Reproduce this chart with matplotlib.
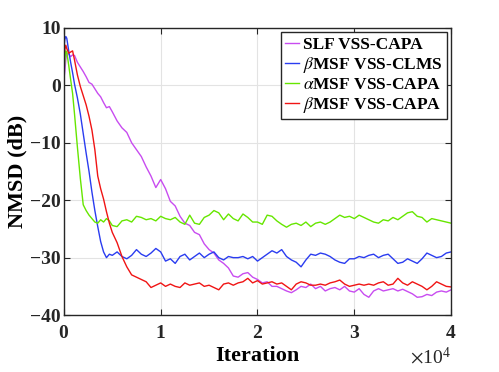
import matplotlib
matplotlib.use("Agg")
from matplotlib import pyplot as plt

plt.rcParams["font.family"] = ["Liberation Serif", "DejaVu Serif"]
plt.rcParams["mathtext.fontset"] = "stix"

# Data
iters = [0, 100, 200, 300, 500, 700, 900, 1100, 1400, 1700, 2000, 2300, 2600,
         2900, 3200, 3500, 3800, 4100, 4400, 4700, 5000] + list(range(5500, 40001, 500))

slf_capa = [1.0, 2.5, 4.5, 5.6, 5.4, 5.0, 5.3, 5.2, 4.0, 3.2, 2.4, 1.5, 0.5,
            0.2, -0.6, -1.4, -2.0, -3.0, -3.9, -3.7, -4.6,
            -6.2, -7.4, -8.2, -10.0, -11.2, -12.4, -14.2, -15.8, -17.8, -16.4,
            -18.0, -20.2, -21.0, -22.8, -24.0, -24.4, -25.6, -26.0, -27.6, -28.6,
            -29.2, -30.4, -31.0, -31.8, -33.2, -33.4, -32.8, -32.6, -33.4, -33.8,
            -34.4, -34.2, -35.0, -35.0, -35.4, -35.8, -36.1, -35.6, -35.0, -35.2,
            -34.6, -35.4, -35.0, -35.8, -35.4, -35.2, -35.6, -35.0, -35.8, -36.0,
            -35.4, -36.4, -36.9, -35.8, -35.4, -35.8, -35.6, -35.4, -35.8, -35.5,
            -35.9, -36.3, -36.9, -36.8, -36.4, -36.6, -36.0, -35.8, -36.0, -35.6]

beta_clms = [6.5, 8.0, 8.5, 8.2, 6.0, 4.0, 2.2, 0.2, -2.2, -5.0, -8.4, -11.8, -15.0,
             -18.6, -21.8, -24.6, -27.2, -29.0, -30.0, -29.4, -29.6,
             -29.0, -29.8, -30.2, -29.6, -28.6, -29.4, -29.8, -29.2, -28.4, -29.0,
             -30.6, -30.2, -31.0, -29.8, -29.4, -30.4, -29.8, -29.2, -30.0, -29.4,
             -29.0, -30.0, -30.4, -29.8, -30.0, -30.0, -29.8, -30.2, -29.8, -30.6,
             -30.0, -29.4, -28.8, -29.2, -28.6, -29.8, -30.4, -30.8, -31.6, -30.4,
             -29.4, -29.6, -29.2, -29.4, -29.8, -30.4, -30.8, -31.0, -30.2, -30.2,
             -29.8, -30.0, -29.6, -29.4, -30.0, -29.6, -29.4, -30.2, -31.0, -30.8,
             -30.2, -30.6, -31.0, -30.2, -29.2, -29.6, -30.0, -29.8, -29.2, -29.0]

alpha_capa = [2.0, 4.5, 6.0, 5.8, 3.5, 1.0, -1.4, -5.0, -10.8, -16.2, -20.8, -21.8, -22.6,
              -23.2, -23.8, -24.0, -23.4, -23.8, -23.2, -23.6, -24.4,
              -24.6, -23.6, -23.4, -23.8, -22.8, -23.0, -23.4, -23.2, -23.6, -22.8,
              -23.2, -23.4, -23.0, -23.8, -24.2, -22.6, -24.0, -24.2, -23.0, -22.6,
              -21.8, -22.2, -23.4, -22.4, -23.2, -23.6, -22.4, -23.0, -23.8, -23.8,
              -24.2, -22.6, -22.8, -23.6, -24.2, -24.7, -24.2, -24.0, -24.4, -23.8,
              -24.6, -24.0, -23.8, -24.2, -23.8, -23.2, -22.6, -23.0, -22.8, -23.2,
              -22.6, -23.0, -23.4, -23.8, -24.0, -23.4, -23.6, -23.0, -23.4, -22.8,
              -22.2, -22.0, -22.8, -23.0, -23.8, -23.2, -23.4, -23.6, -23.8, -24.0]

beta_capa = [5.0, 6.2, 7.0, 6.4, 5.6, 5.8, 6.0, 4.4, 1.8, -0.2, -1.8, -3.4, -5.4,
             -7.8, -11.2, -15.8, -18.0, -19.8, -22.0, -24.0, -25.6,
             -27.4, -29.8, -31.6, -33.0, -33.4, -33.8, -34.2, -35.2, -34.8, -34.4,
             -35.0, -34.6, -35.0, -35.2, -34.4, -34.8, -34.6, -34.4, -35.0, -34.8,
             -35.2, -35.6, -34.6, -34.4, -34.8, -34.4, -34.2, -33.6, -34.4, -34.0,
             -34.6, -34.4, -34.2, -34.6, -34.4, -35.0, -35.6, -34.6, -34.2, -34.4,
             -34.8, -34.8, -34.6, -34.8, -34.4, -34.2, -33.9, -34.6, -35.0, -34.8,
             -34.6, -34.8, -34.6, -34.8, -34.4, -34.2, -34.8, -34.6, -33.6, -34.4,
             -34.8, -34.2, -34.6, -35.0, -35.6, -35.0, -34.2, -34.6, -35.0, -35.1]

labels = ["SLF VSS-CAPA", r"$\beta$MSF VSS-CLMS",
          r"$\alpha$MSF VSS-CAPA", r"$\beta$MSF VSS-CAPA"]
colors = ["#c84cf0", "#2a3cf0", "#66e600", "#f01414"]

fig = plt.figure(figsize=(4.99, 3.72), dpi=100)
ax = fig.add_axes([0.128, 0.153, 0.776, 0.772])

for ys, lab, c in zip([slf_capa, beta_clms, alpha_capa, beta_capa], labels, colors):
    ax.plot(iters, ys, color=c, lw=1.0, label=lab)

ax.set_xlim(0, 40000)
ax.set_ylim(-40, 10)
ax.set_xticks([0, 10000, 20000, 30000, 40000])
ax.set_yticks([-40, -30, -20, -10, 0, 10])
ax.ticklabel_format(axis="x", style="sci", scilimits=(0, 0), useMathText=True)
ax.xaxis.get_offset_text().set_fontsize(14)

ax.grid(True, color="#e3e3e3", lw=0.8)
ax.tick_params(direction="in", top=True, right=True, length=4, width=0.8,
               labelsize=14, colors="#262626")
ax.tick_params(axis="x", pad=7)
ax.tick_params(axis="y", pad=2)
for lbl in ax.get_xticklabels() + ax.get_yticklabels():
    lbl.set_fontweight("bold")
for s in ax.spines.values():
    s.set_color("#262626")
    s.set_linewidth(1.0)

ax.set_xlabel("Iteration", fontsize=16, fontweight="bold", labelpad=3)
ax.set_ylabel("NMSD (dB)", fontsize=16, fontweight="bold", labelpad=2)

leg = ax.legend(loc="upper right", handlelength=0.8, handletextpad=0.2,
                borderpad=0.25, labelspacing=0.12, fancybox=False, framealpha=1,
                borderaxespad=0.25, prop={"weight": "bold", "size": 12.5})
leg.get_frame().set_edgecolor("#262626")
leg.get_frame().set_linewidth(1.0)

fig.savefig("out.png", dpi=100)
